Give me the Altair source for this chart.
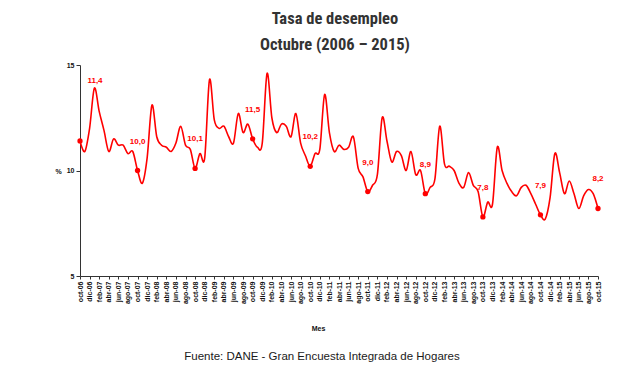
import altair as alt
import pandas as pd

mon = ["ene", "feb", "mar", "abr", "may", "jun", "jul", "ago", "sep", "oct", "nov", "dic"]
months = ["oct-06", "nov-06", "dic-06"] + [f"{m}-{y:02d}" for y in range(7, 16) for m in mon]
months = months[:109]

rates = [
    11.4, 10.9, 12.0,
    13.9, 12.8, 11.9, 10.9, 11.5, 11.2, 11.2, 10.8, 10.9, 10.0, 9.4, 10.6,
    13.1, 11.6, 11.2, 11.1, 10.9, 11.3, 12.1, 11.2, 11.0, 10.1, 10.8, 10.6,
    14.3, 12.4, 12.0, 12.1, 11.6, 11.3, 12.7, 11.8, 12.2, 11.5, 11.1, 11.3,
    14.6, 12.5, 11.8, 12.2, 12.1, 11.6, 12.7, 11.3, 10.7, 10.2, 10.8, 11.0,
    13.6, 11.8, 10.9, 11.2, 11.0, 11.1, 11.6, 10.1, 9.7, 9.0, 9.3, 9.8,
    12.5, 11.4, 10.4, 10.9, 10.7, 10.0, 10.9, 9.8, 10.0, 8.9, 9.2, 9.6,
    12.1, 10.3, 10.2, 10.0, 9.4, 9.2, 9.9, 9.3, 9.0, 7.8, 8.5, 8.4,
    11.1, 10.0, 9.4, 9.0, 8.8, 9.2, 9.3, 8.9, 8.4, 7.9, 7.7, 8.7,
    10.8, 9.9, 8.9, 9.5, 8.9, 8.2, 8.8, 9.1, 8.9, 8.2,
]

tick_labels = months[::2]
y_ticks = [5, 10, 15]
title_lines = ["Tasa de desempleo", "Octubre (2006 \u2013 2015)"]
footer = "Fuente: DANE - Gran Encuesta Integrada de Hogares"

df = pd.DataFrame({"mes": months, "tasa": rates})
octs = df[df["mes"].str.startswith("oct")].copy()
octs["lbl"] = octs["tasa"].map(lambda v: f"{v:.1f}".replace(".", ","))

RED = "#FF0000"
FONT = "Liberation Sans, Arial, sans-serif"

x_enc = alt.X(
    "mes:O", sort=months,
    scale=alt.Scale(type="point", padding=0),
    axis=alt.Axis(
        values=tick_labels, labelAngle=270, labelFontSize=7, labelFontWeight="bold",
        labelColor="#111", labelOverlap=False, labelPadding=2, tickSize=3,
        tickColor="#333", domainColor="#333", title="Mes", titleFontSize=7,
        titleFontWeight="bold", titleColor="#111", titleX=238, titleY=48,
    ),
)
y_enc = alt.Y(
    "tasa:Q", scale=alt.Scale(domain=[5, 15], nice=False),
    axis=alt.Axis(
        values=y_ticks, grid=False, labelFontSize=7, labelFontWeight="bold",
        labelColor="#111", tickSize=4, tickColor="#333", domainColor="#333",
        title="%", titleAngle=0, titleX=-22, titleY=106, titleAlign="center",
        titleBaseline="middle", titleFontSize=7, titleFontWeight="bold", titleColor="#111",
    ),
)

line = alt.Chart(df).mark_line(color=RED, strokeWidth=1.6, interpolate="cardinal").encode(x=x_enc, y=y_enc)
pts = alt.Chart(octs).mark_circle(color=RED, size=28, opacity=1).encode(x=x_enc, y=y_enc)
lbl_first = alt.Chart(octs.iloc[:1]).mark_text(
    color=RED, fontSize=8, fontWeight="bold", font=FONT, dx=15, dy=-60
).encode(x=x_enc, y=y_enc, text="lbl:N")
lbl_rest = alt.Chart(octs.iloc[1:]).mark_text(
    color=RED, fontSize=8, fontWeight="bold", font=FONT, dy=-29
).encode(x=x_enc, y=y_enc, text="lbl:N")
foot = alt.Chart(pd.DataFrame({"t": [footer]})).mark_text(
    fontSize=11.5, font=FONT, color="#1a1a1a", baseline="middle"
).encode(text="t:N", x=alt.value(242), y=alt.value(292))

chart = alt.layer(line, pts, lbl_first, lbl_rest, foot).properties(
    width=518, height=211,
    title=alt.TitleParams(
        title_lines, fontSize=16.5, font="Liberation Sans Narrow, Roboto Condensed, Arial Narrow, sans-serif",
        fontWeight="bold", color="#333", lineHeight=26, anchor="middle", offset=8, dx=-4,
    ),
    autosize=alt.AutoSizeParams(type="none"),
    padding={"left": 72, "top": 57, "right": 30, "bottom": 92},
).configure_view(stroke=None).configure_axis(labelFont=FONT, titleFont=FONT)

chart.save("out.html", embed_options={"renderer": "svg", "actions": False})
